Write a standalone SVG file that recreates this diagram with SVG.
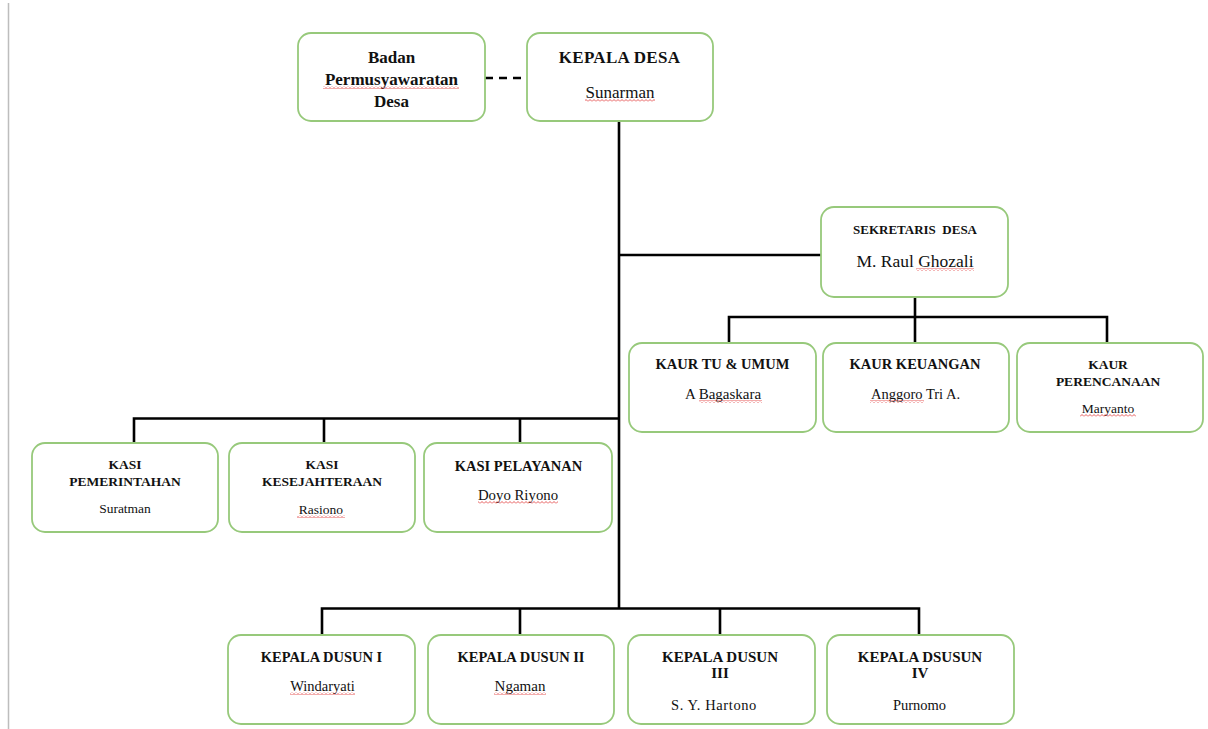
<svg xmlns="http://www.w3.org/2000/svg" width="1208" height="729" viewBox="0 0 1208 729">
<defs>
<style>
.box{fill:#fff;stroke:#97C97B;stroke-width:1.8}
.ln{fill:none;stroke:#000;stroke-width:2.6}
.t{font-family:"Liberation Serif","Times New Roman",serif;text-anchor:middle;fill:#111}
.b{font-weight:bold}
.sq{fill:url(#squig)}
</style>
<pattern id="squig" x="0" y="0" width="4" height="3" patternUnits="userSpaceOnUse">
<path d="M0,2.5 L2,0.5 L4,2.5" fill="none" stroke="#E03030" stroke-width="0.8"/>
</pattern>
</defs>
<rect width="1208" height="729" fill="#fff"/>
<line x1="8.5" y1="3" x2="8.5" y2="729" stroke="#BDBDBD" stroke-width="1.5"/>

<g id="connectors">
<line class="ln" x1="485" y1="78" x2="527" y2="78" stroke-dasharray="8 6"/>
<line class="ln" x1="619" y1="121" x2="619" y2="609"/>
<line class="ln" x1="619" y1="255" x2="821" y2="255"/>
<line class="ln" x1="915" y1="297" x2="915" y2="317"/>
<path class="ln" d="M729,343 V317 H1107 V343 M915,317 V343"/>
<path class="ln" d="M134,443 V418.5 H619 M324,418.5 V443 M520,418.5 V443"/>
<path class="ln" d="M322,635 V608.5 H919 V635 M520,608.5 V635 M720,608.5 V635"/>
</g>

<g id="badan">
<rect class="box" x="298" y="33" width="187" height="88" rx="13"/>
<text class="t b" x="391.5" y="63" font-size="17">Badan</text>
<text class="t b" x="391.5" y="85" font-size="17">Permusyawaratan</text>
<text class="t b" x="391.5" y="107" font-size="17">Desa</text>
<rect class="sq" x="323" y="86" width="136" height="3"/>
</g>

<g id="kepala-desa">
<rect class="box" x="527" y="33" width="186" height="88" rx="13"/>
<text class="t b" x="619.5" y="63" font-size="17" letter-spacing="0.3">KEPALA DESA</text>
<text class="t" x="620" y="98" font-size="17">Sunarman</text>
<rect class="sq" x="585" y="99" width="70" height="3"/>
</g>

<g id="sekretaris">
<rect class="box" x="821" y="207" width="187" height="90" rx="13"/>
<text class="t b" x="915" y="234" font-size="13" xml:space="preserve">SEKRETARIS  DESA</text>
<text class="t" x="915" y="267" font-size="17.5">M. Raul Ghozali</text>
<rect class="sq" x="916" y="268" width="58" height="3"/>
</g>

<g id="kaur-tu">
<rect class="box" x="629" y="343" width="187" height="89" rx="13"/>
<text class="t b" x="722.5" y="369" font-size="14.5">KAUR TU &amp; UMUM</text>
<text class="t" x="723" y="399" font-size="15">A Bagaskara</text>
<rect class="sq" x="699" y="400" width="63" height="3"/>
</g>

<g id="kaur-keuangan">
<rect class="box" x="823" y="343" width="186" height="89" rx="13"/>
<text class="t b" x="915" y="369" font-size="14.5">KAUR KEUANGAN</text>
<text class="t" x="915.5" y="399" font-size="14.5">Anggoro Tri A.</text>
<rect class="sq" x="870" y="400" width="54" height="3"/>
</g>

<g id="kaur-perencanaan">
<rect class="box" x="1017" y="343" width="186" height="89" rx="13"/>
<text class="t b" x="1108" y="369" font-size="13.5">KAUR</text>
<text class="t b" x="1108" y="386" font-size="13.5">PERENCANAAN</text>
<text class="t" x="1108" y="413" font-size="13.5">Maryanto</text>
<rect class="sq" x="1080" y="414" width="56" height="3"/>
</g>

<g id="kasi-pemerintahan">
<rect class="box" x="32" y="443" width="186" height="89" rx="13"/>
<text class="t b" x="125" y="469" font-size="13.5">KASI</text>
<text class="t b" x="125" y="486" font-size="13.5">PEMERINTAHAN</text>
<text class="t" x="125" y="513" font-size="13.5">Suratman</text>
</g>

<g id="kasi-kesejahteraan">
<rect class="box" x="229" y="443" width="186" height="89" rx="13"/>
<text class="t b" x="322" y="469" font-size="13.5">KASI</text>
<text class="t b" x="322" y="486" font-size="13.5">KESEJAHTERAAN</text>
<text class="t" x="321" y="514" font-size="13.5">Rasiono</text>
<rect class="sq" x="297" y="515" width="48" height="3"/>
</g>

<g id="kasi-pelayanan">
<rect class="box" x="424" y="443" width="188" height="89" rx="13"/>
<text class="t b" x="518.5" y="471" font-size="14.5">KASI PELAYANAN</text>
<text class="t" x="518" y="500" font-size="14.8">Doyo Riyono</text>
<rect class="sq" x="478" y="501" width="80" height="3"/>
</g>

<g id="dusun-1">
<rect class="box" x="228" y="635" width="187" height="89" rx="13"/>
<text class="t b" x="321.5" y="662" font-size="14.5">KEPALA DUSUN I</text>
<text class="t" x="322.5" y="691" font-size="14.5">Windaryati</text>
<rect class="sq" x="290" y="692" width="65" height="3"/>
</g>

<g id="dusun-2">
<rect class="box" x="428" y="635" width="186" height="89" rx="13"/>
<text class="t b" x="521" y="662" font-size="14.5">KEPALA DUSUN II</text>
<text class="t" x="520" y="691" font-size="15">Ngaman</text>
<rect class="sq" x="494" y="692" width="52" height="3"/>
</g>

<g id="dusun-3">
<rect class="box" x="628" y="635" width="187" height="89" rx="13"/>
<text class="t b" x="720" y="662" font-size="15">KEPALA DUSUN</text>
<text class="t b" x="720" y="678" font-size="15">III</text>
<text class="t" x="714" y="710" font-size="14.5" letter-spacing="0.6">S. Y. Hartono</text>
</g>

<g id="dusun-4">
<rect class="box" x="827" y="635" width="187" height="89" rx="13"/>
<text class="t b" x="920" y="662" font-size="15">KEPALA DSUSUN</text>
<text class="t b" x="920" y="678" font-size="15">IV</text>
<text class="t" x="919.5" y="710" font-size="14.5">Purnomo</text>
</g>
</svg>
